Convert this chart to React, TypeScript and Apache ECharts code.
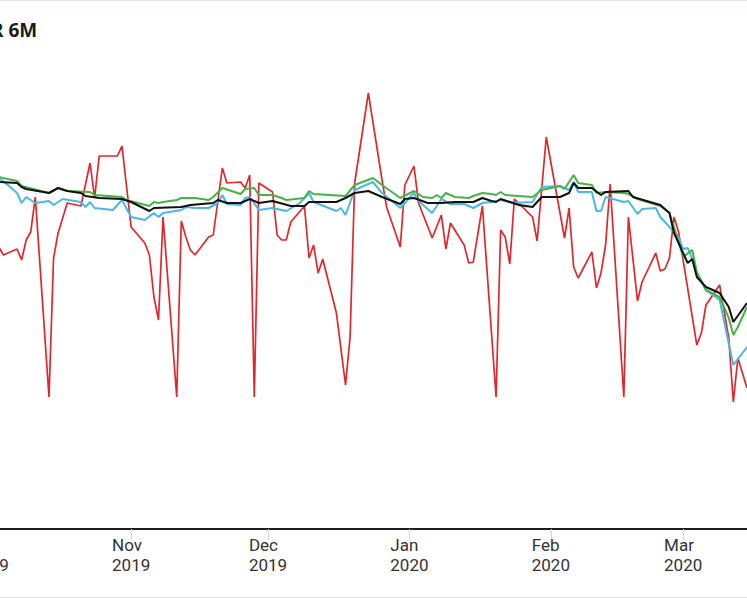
import { useEffect, useRef } from 'react'
import * as echarts from 'echarts'

const monthNames = ['Jan', 'Feb', 'Mar', 'Apr', 'May', 'Jun', 'Jul', 'Aug', 'Sep', 'Oct', 'Nov', 'Dec']

const redSeries: [string, number][] = [
  ['2019-10-03', 2.82], ['2019-10-04', 2.74], ['2019-10-07', 2.8], ['2019-10-08', 2.69], ['2019-10-09', 2.89],
  ['2019-10-10', 2.97], ['2019-10-11', 3.32], ['2019-10-14', 1.32], ['2019-10-15', 2.71], ['2019-10-16', 2.96],
  ['2019-10-18', 3.26], ['2019-10-21', 3.23], ['2019-10-23', 3.66], ['2019-10-24', 3.31], ['2019-10-25', 3.73],
  ['2019-10-29', 3.73], ['2019-10-30', 3.83], ['2019-11-01', 3.02], ['2019-11-04', 2.86], ['2019-11-05', 2.74],
  ['2019-11-06', 2.32], ['2019-11-07', 2.09], ['2019-11-08', 3.12], ['2019-11-11', 1.32], ['2019-11-12', 3.08],
  ['2019-11-13', 2.92], ['2019-11-14', 2.79], ['2019-11-15', 2.74], ['2019-11-18', 2.92], ['2019-11-19', 2.94],
  ['2019-11-21', 3.61], ['2019-11-22', 3.46], ['2019-11-25', 3.47], ['2019-11-26', 3.41], ['2019-11-27', 3.54],
  ['2019-11-28', 1.32], ['2019-11-29', 3.46], ['2019-12-02', 3.37], ['2019-12-03', 2.94], ['2019-12-04', 2.89],
  ['2019-12-05', 2.89], ['2019-12-06', 3.07], ['2019-12-09', 3.23], ['2019-12-10', 2.71], ['2019-12-11', 2.84],
  ['2019-12-12', 2.56], ['2019-12-13', 2.7], ['2019-12-16', 2.16], ['2019-12-18', 1.44], ['2019-12-19', 1.92],
  ['2019-12-20', 3.46], ['2019-12-23', 4.36], ['2019-12-26', 3.49], ['2019-12-27', 3.22], ['2019-12-30', 2.82],
  ['2019-12-31', 3.44], ['2020-01-02', 3.63], ['2020-01-03', 3.26], ['2020-01-06', 2.91], ['2020-01-08', 3.14],
  ['2020-01-09', 2.8], ['2020-01-10', 3.06], ['2020-01-13', 2.84], ['2020-01-14', 2.66], ['2020-01-15', 2.67],
  ['2020-01-17', 3.23], ['2020-01-20', 1.32], ['2020-01-21', 2.99], ['2020-01-22', 2.92], ['2020-01-23', 2.65],
  ['2020-01-24', 3.3], ['2020-01-28', 3.12], ['2020-01-29', 2.88], ['2020-01-31', 3.92], ['2020-02-04', 2.91],
  ['2020-02-05', 3.21], ['2020-02-06', 2.62], ['2020-02-07', 2.51], ['2020-02-10', 2.77], ['2020-02-11', 2.41],
  ['2020-02-12', 2.56], ['2020-02-13', 2.84], ['2020-02-14', 3.45], ['2020-02-17', 1.32], ['2020-02-18', 3.12],
  ['2020-02-20', 2.28], ['2020-02-21', 2.47], ['2020-02-24', 2.76], ['2020-02-25', 2.58], ['2020-02-26', 2.6],
  ['2020-02-27', 2.71], ['2020-02-28', 3.12], ['2020-02-29', 2.97], ['2020-03-04', 1.84], ['2020-03-05', 1.96],
  ['2020-03-06', 2.24], ['2020-03-09', 2.44], ['2020-03-11', 1.91], ['2020-03-12', 1.27], ['2020-03-13', 1.71],
  ['2020-03-15', 1.41]
]

const cyanSeries: [string, number][] = [
  ['2019-10-03', 3.51], ['2019-10-05', 3.44], ['2019-10-07', 3.36], ['2019-10-08', 3.26], ['2019-10-09', 3.32],
  ['2019-10-11', 3.26], ['2019-10-14', 3.28], ['2019-10-15', 3.24], ['2019-10-17', 3.3], ['2019-10-21', 3.27],
  ['2019-10-22', 3.22], ['2019-10-23', 3.27], ['2019-10-24', 3.21], ['2019-10-28', 3.19], ['2019-10-30', 3.29],
  ['2019-11-01', 3.12], ['2019-11-04', 3.09], ['2019-11-06', 3.16], ['2019-11-07', 3.12], ['2019-11-08', 3.16],
  ['2019-11-12', 3.19], ['2019-11-13', 3.22], ['2019-11-15', 3.21], ['2019-11-18', 3.21], ['2019-11-20', 3.26],
  ['2019-11-21', 3.34], ['2019-11-22', 3.25], ['2019-11-25', 3.24], ['2019-11-26', 3.31], ['2019-11-27', 3.32],
  ['2019-11-29', 3.19], ['2019-12-02', 3.21], ['2019-12-05', 3.18], ['2019-12-08', 3.26], ['2019-12-10', 3.36],
  ['2019-12-11', 3.27], ['2019-12-16', 3.18], ['2019-12-17', 3.21], ['2019-12-18', 3.14], ['2019-12-20', 3.39],
  ['2019-12-24', 3.47], ['2019-12-26', 3.36], ['2019-12-30', 3.21], ['2020-01-02', 3.36], ['2020-01-03', 3.28],
  ['2020-01-06', 3.16], ['2020-01-08', 3.3], ['2020-01-10', 3.25], ['2020-01-13', 3.25], ['2020-01-15', 3.21],
  ['2020-01-17', 3.26], ['2020-01-19', 3.27], ['2020-01-21', 3.29], ['2020-01-24', 3.26], ['2020-01-28', 3.27],
  ['2020-01-30', 3.42], ['2020-02-03', 3.43], ['2020-02-05', 3.39], ['2020-02-06', 3.47], ['2020-02-07', 3.37],
  ['2020-02-10', 3.37], ['2020-02-11', 3.18], ['2020-02-12', 3.18], ['2020-02-13', 3.32], ['2020-02-17', 3.27],
  ['2020-02-18', 3.28], ['2020-02-20', 3.15], ['2020-02-21', 3.2], ['2020-02-24', 3.21], ['2020-02-25', 3.12],
  ['2020-02-27', 3.02], ['2020-02-29', 2.92], ['2020-03-01', 2.8], ['2020-03-02', 2.81], ['2020-03-03', 2.7],
  ['2020-03-04', 2.56], ['2020-03-06', 2.39], ['2020-03-09', 2.29], ['2020-03-12', 1.64], ['2020-03-15', 1.82]
]

const greenSeries: [string, number][] = [
  ['2019-10-03', 3.52], ['2019-10-07', 3.48], ['2019-10-08', 3.43], ['2019-10-14', 3.36], ['2019-10-16', 3.41],
  ['2019-10-18', 3.38], ['2019-10-23', 3.37], ['2019-10-24', 3.34], ['2019-10-30', 3.32], ['2019-10-31', 3.29],
  ['2019-11-05', 3.23], ['2019-11-06', 3.27], ['2019-11-07', 3.26], ['2019-11-08', 3.27], ['2019-11-11', 3.29],
  ['2019-11-12', 3.31], ['2019-11-15', 3.31], ['2019-11-18', 3.29], ['2019-11-19', 3.32], ['2019-11-21', 3.41],
  ['2019-11-25', 3.35], ['2019-11-26', 3.4], ['2019-11-28', 3.41], ['2019-11-29', 3.34], ['2019-12-02', 3.34],
  ['2019-12-04', 3.31], ['2019-12-05', 3.29], ['2019-12-09', 3.31], ['2019-12-10', 3.38], ['2019-12-11', 3.35],
  ['2019-12-18', 3.33], ['2019-12-20', 3.44], ['2019-12-24', 3.51], ['2019-12-26', 3.44], ['2019-12-30', 3.31],
  ['2020-01-02', 3.38], ['2020-01-04', 3.32], ['2020-01-06', 3.31], ['2020-01-07', 3.34], ['2020-01-08', 3.31],
  ['2020-01-09', 3.36], ['2020-01-11', 3.32], ['2020-01-14', 3.31], ['2020-01-15', 3.33], ['2020-01-17', 3.36],
  ['2020-01-19', 3.35], ['2020-01-20', 3.34], ['2020-01-21', 3.37], ['2020-01-22', 3.34], ['2020-01-28', 3.32],
  ['2020-01-30', 3.39], ['2020-02-03', 3.43], ['2020-02-04', 3.4], ['2020-02-06', 3.54], ['2020-02-07', 3.46],
  ['2020-02-10', 3.44], ['2020-02-11', 3.36], ['2020-02-13', 3.37], ['2020-02-17', 3.36], ['2020-02-18', 3.35],
  ['2020-02-20', 3.3], ['2020-02-25', 3.23], ['2020-02-27', 3.16], ['2020-02-28', 3.02], ['2020-03-01', 2.72],
  ['2020-03-03', 2.79], ['2020-03-04', 2.57], ['2020-03-06', 2.39], ['2020-03-09', 2.32], ['2020-03-11', 2.11],
  ['2020-03-12', 1.94], ['2020-03-13', 2.02], ['2020-03-15', 2.22]
]

const blackSeries: [string, number][] = [
  ['2019-10-03', 3.47], ['2019-10-07', 3.46], ['2019-10-08', 3.42], ['2019-10-09', 3.4], ['2019-10-14', 3.36],
  ['2019-10-16', 3.41], ['2019-10-18', 3.38], ['2019-10-21', 3.36], ['2019-10-22', 3.33], ['2019-10-25', 3.31],
  ['2019-10-30', 3.3], ['2019-11-01', 3.27], ['2019-11-05', 3.18], ['2019-11-06', 3.21], ['2019-11-12', 3.22],
  ['2019-11-14', 3.24], ['2019-11-19', 3.26], ['2019-11-20', 3.29], ['2019-11-22', 3.26], ['2019-11-25', 3.26],
  ['2019-11-27', 3.3], ['2019-11-29', 3.26], ['2019-12-02', 3.28], ['2019-12-06', 3.23], ['2019-12-09', 3.23],
  ['2019-12-10', 3.27], ['2019-12-16', 3.27], ['2019-12-18', 3.31], ['2019-12-20', 3.36], ['2019-12-23', 3.38],
  ['2019-12-26', 3.32], ['2019-12-30', 3.25], ['2019-12-31', 3.3], ['2020-01-02', 3.31], ['2020-01-05', 3.26],
  ['2020-01-08', 3.26], ['2020-01-11', 3.27], ['2020-01-15', 3.27], ['2020-01-17', 3.31], ['2020-01-19', 3.28],
  ['2020-01-20', 3.27], ['2020-01-21', 3.3], ['2020-01-25', 3.24], ['2020-01-28', 3.22], ['2020-01-30', 3.32],
  ['2020-02-03', 3.32], ['2020-02-05', 3.36], ['2020-02-06', 3.46], ['2020-02-07', 3.41], ['2020-02-10', 3.41],
  ['2020-02-12', 3.34], ['2020-02-13', 3.37], ['2020-02-18', 3.38], ['2020-02-19', 3.32], ['2020-02-25', 3.24],
  ['2020-02-27', 3.16], ['2020-02-28', 2.96], ['2020-02-29', 2.86], ['2020-03-02', 2.66], ['2020-03-03', 2.7],
  ['2020-03-04', 2.52], ['2020-03-06', 2.42], ['2020-03-09', 2.36], ['2020-03-11', 2.22], ['2020-03-12', 2.07],
  ['2020-03-15', 2.26]
]

const labelFont = 'Roboto, "Noto Sans", sans-serif'

function lineSeries(data: [string, number][], color: string, width: number) {
  return {
    type: 'line',
    data,
    showSymbol: false,
    symbol: 'none',
    lineStyle: { color, width },
    itemStyle: { color }
  }
}

export default function App() {
  const chartRef = useRef<HTMLDivElement>(null)

  useEffect(() => {
    if (!chartRef.current) return
    document.body.style.margin = '0'
    const chart = echarts.init(chartRef.current, null, { renderer: 'svg' })

    chart.setOption({
      animation: false,
      grid: { left: -24, right: -5, top: 29, bottom: 69, outerBoundsMode: 'none' },
      xAxis: {
        type: 'time',
        min: '2019-09-28',
        max: '2020-03-16 02:18',
        splitLine: { show: false },
        axisLine: { show: true, onZero: false, lineStyle: { color: '#1e1e1e', width: 2 } },
        axisTick: { show: true, length: 11, lineStyle: { color: '#c8d8ec', width: 1 } },
        axisLabel: {
          margin: 6,
          showMinLabel: false,
          showMaxLabel: false,
          formatter: (value: number) => {
            const d = new Date(value)
            if (d.getDate() !== 1 || d.getHours() !== 0) return ''
            return `{a|${monthNames[d.getMonth()]}}\n{a|${d.getFullYear()}}`
          },
          rich: {
            a: { align: 'left', fontSize: 17, lineHeight: 20, fontFamily: labelFont, color: '#333333' }
          }
        }
      },
      yAxis: { type: 'value', min: 0, max: 5, show: false, splitLine: { show: false } },
      graphic: [
        { type: 'line', shape: { x1: 0, y1: 0.5, x2: 747, y2: 0.5 }, style: { stroke: '#e1e5ea', lineWidth: 1 } },
        { type: 'line', shape: { x1: 0, y1: 597.5, x2: 747, y2: 597.5 }, style: { stroke: '#e1e5ea', lineWidth: 1 } },
        {
          type: 'text',
          x: -9,
          y: 20,
          style: {
            text: 'R 6M',
            font: 'bold 19px "Open Sans", sans-serif',
            fill: '#1c1c1c',
            textVerticalAlign: 'top'
          }
        }
      ],
      series: [
        lineSeries(redSeries, '#e3262c', 1.7),
        lineSeries(cyanSeries, '#4ab8e6', 2),
        lineSeries(greenSeries, '#47b347', 2),
        lineSeries(blackSeries, '#111111', 2)
      ]
    })

    return () => {
      chart.dispose()
    }
  }, [])

  return <div ref={chartRef} style={{ width: 747, height: 598 }} />
}
